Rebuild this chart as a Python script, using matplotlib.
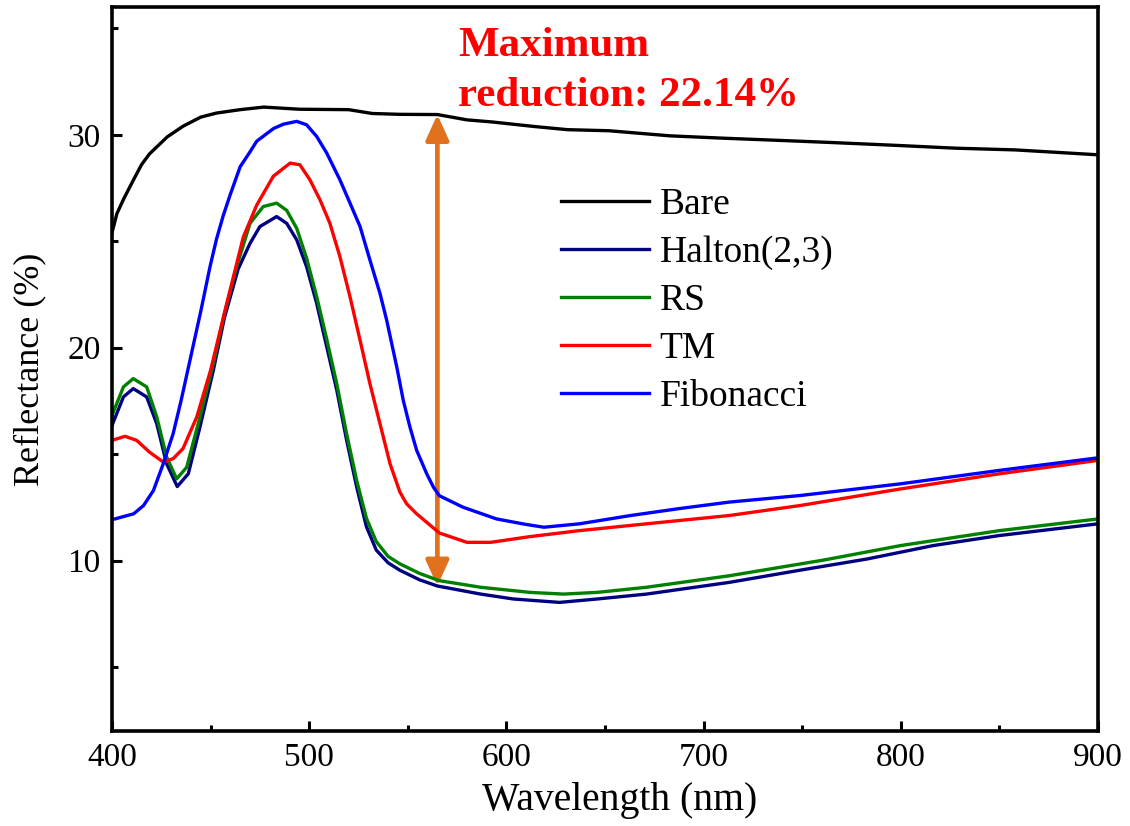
import matplotlib.pyplot as plt
from matplotlib.patches import FancyArrowPatch
from matplotlib.ticker import MultipleLocator

plt.rcParams["font.family"] = ["Liberation Serif", "DejaVu Serif"]

# ---- reflectance spectra (wavelength in nm, reflectance in %) ----
wl_bare = [400, 402.5, 406, 411, 415, 419, 428, 436, 445, 453, 465, 477, 495,
           520, 532, 546, 565, 580, 593, 614, 631, 652, 683, 710, 743, 764,
           796, 828, 858, 880, 900]
r_bare = [25.4, 26.3, 27.0, 27.9, 28.6, 29.1, 29.9, 30.4, 30.83, 31.02, 31.18,
          31.3, 31.2, 31.18, 31.0, 30.96, 30.95, 30.7, 30.6, 30.39, 30.24,
          30.19, 29.95, 29.84, 29.72, 29.64, 29.51, 29.37, 29.29, 29.17, 29.06]

wl_halton = [400, 405.8, 410.8, 417.6, 422.7, 427.7, 433.1, 438.7, 444.6,
             451.4, 457, 464, 470, 475, 483.5, 488.6, 493.7, 498.7, 503.8,
             508.9, 514, 519, 524.1, 529, 534, 540, 546, 556, 565, 587, 603.5,
             627, 646, 671, 713, 750, 783, 816.5, 850, 900]
r_halton = [16.35, 17.69, 18.08, 17.69, 16.43, 14.55, 13.48, 14.08, 16.27,
            18.94, 21.4, 23.7, 24.9, 25.69, 26.16, 25.84, 25.06, 23.8, 22.08,
            20.04, 18.0, 15.65, 13.45, 11.6, 10.5, 9.9, 9.55, 9.1, 8.81, 8.43,
            8.2, 8.04, 8.2, 8.43, 8.98, 9.57, 10.08, 10.71, 11.18, 11.73]

wl_rs = [400, 405.8, 410.8, 417.6, 422.7, 427.7, 432.8, 437.9, 444.6, 451.4,
         457, 463.2, 470, 476.7, 483.5, 488.6, 493.7, 498.7, 503.8, 508.9,
         514, 519, 524.1, 529, 534, 540, 546, 556, 566, 587, 612, 629, 646,
         671, 713, 761, 800, 850, 900]
r_rs = [16.82, 18.16, 18.55, 18.16, 16.75, 14.87, 13.84, 14.39, 16.75, 19.25,
        21.6, 23.8, 25.84, 26.63, 26.79, 26.45, 25.6, 24.2, 22.4, 20.4, 18.3,
        15.95, 13.76, 12.0, 10.9, 10.2, 9.85, 9.4, 9.06, 8.75, 8.51, 8.43,
        8.51, 8.75, 9.29, 10.03, 10.71, 11.41, 11.96]

wl_tm = [400, 406.6, 412.5, 419, 426, 431, 436, 443, 450, 458, 466.6, 473.4,
         481.8, 490.3, 495.3, 500.4, 505.5, 510.5, 515.6, 520.7, 525.8,
         530.8, 535.9, 541, 546, 549.4, 554.5, 559.6, 566, 580, 592, 612,
         637, 671, 713, 749, 800, 850, 900]
r_tm = [15.65, 15.84, 15.65, 15.1, 14.63, 14.79, 15.26, 16.75, 18.94, 22.0,
        25.2, 26.7, 28.05, 28.67, 28.59, 27.88, 26.94, 25.84, 24.27, 22.39,
        20.35, 18.31, 16.43, 14.55, 13.22, 12.67, 12.2, 11.8, 11.3, 10.86,
        10.86, 11.13, 11.41, 11.73, 12.12, 12.59, 13.37, 14.08, 14.71]

wl_fib = [400, 405, 411, 416, 421, 426, 431, 435, 440, 445, 449.7, 453,
          456.4, 460, 465, 470, 473.4, 482, 487, 493.7, 498.7, 503.8, 508.9,
          515.6, 520.7, 525.8, 530.8, 535.9, 539.3, 544.4, 547.7, 551.1,
          554.5, 559.6, 563, 566, 578, 595, 610, 619, 637, 663, 688, 713,
          749, 800, 850, 900]
r_fib = [11.92, 12.05, 12.2, 12.59, 13.29, 14.55, 15.96, 17.5, 19.6, 21.7,
         23.8, 25.1, 26.2, 27.2, 28.5, 29.2, 29.7, 30.3, 30.5, 30.63, 30.47,
         29.92, 29.14, 27.88, 26.79, 25.69, 24.12, 22.55, 21.29, 19.1, 17.53,
         16.27, 15.18, 14.08, 13.45, 13.05, 12.51, 11.96, 11.7, 11.57, 11.73,
         12.12, 12.45, 12.75, 13.06, 13.61, 14.24, 14.83]

series = [
    ("Bare", wl_bare, r_bare, "black"),
    ("Halton(2,3)", wl_halton, r_halton, "#000080"),
    ("RS", wl_rs, r_rs, "#008000"),
    ("TM", wl_tm, r_tm, "#FF0000"),
    ("Fibonacci", wl_fib, r_fib, "#0000FF"),
]

# maximum reduction marker
arrow_wl = 565
max_reduction = 22.14
arrow_low = r_halton[wl_halton.index(arrow_wl)]
arrow_high = arrow_low + max_reduction

fig = plt.figure(figsize=(11.3, 8.26), dpi=100)
ax = fig.add_axes([0.0991, 0.115, 0.8726, 0.8765])

for name, wl, r, col in series:
    ax.plot(wl, r, color=col, lw=2.4, label=name)

arrow = FancyArrowPatch((arrow_wl, arrow_low), (arrow_wl, arrow_high),
                        arrowstyle="<|-|>,head_length=1.1,head_width=0.5",
                        mutation_scale=14, color="#E2711D", lw=3.4,
                        shrinkA=0, shrinkB=0)
ax.add_patch(arrow)

ax.text(0.351, 0.973, "Maximum\nreduction: %.2f%%" % max_reduction,
        transform=ax.transAxes, ha="left", va="top", color="#FF0000",
        fontsize=31, fontweight="bold", linespacing=1.42)

ax.set_xlim(400, 900)
ax.set_ylim(2, 36)
ax.xaxis.set_major_locator(MultipleLocator(100))
ax.xaxis.set_minor_locator(MultipleLocator(50))
ax.yaxis.set_major_locator(MultipleLocator(10))
ax.yaxis.set_minor_locator(MultipleLocator(5))
ax.tick_params(which="both", direction="in", top=False, right=False,
               width=2.2, labelsize=24, pad=8)
ax.tick_params(which="major", length=7)
ax.tick_params(which="minor", length=4.5)
for sp in ax.spines.values():
    sp.set_linewidth(2.6)

ax.set_xlabel("Wavelength (nm)", fontsize=28.5)
ax.xaxis.set_label_coords(0.515, -0.096, transform=ax.transAxes)
ax.xaxis.label.set_va("center")
ax.set_ylabel("Reflectance (%)", fontsize=26, labelpad=15)

ax.legend(loc="upper left", bbox_to_anchor=(0.44, 0.771), frameon=False,
          fontsize=27, handlelength=2.35, handletextpad=0.28,
          labelspacing=0.36, borderaxespad=0)

fig.savefig("out.png", dpi=100)
